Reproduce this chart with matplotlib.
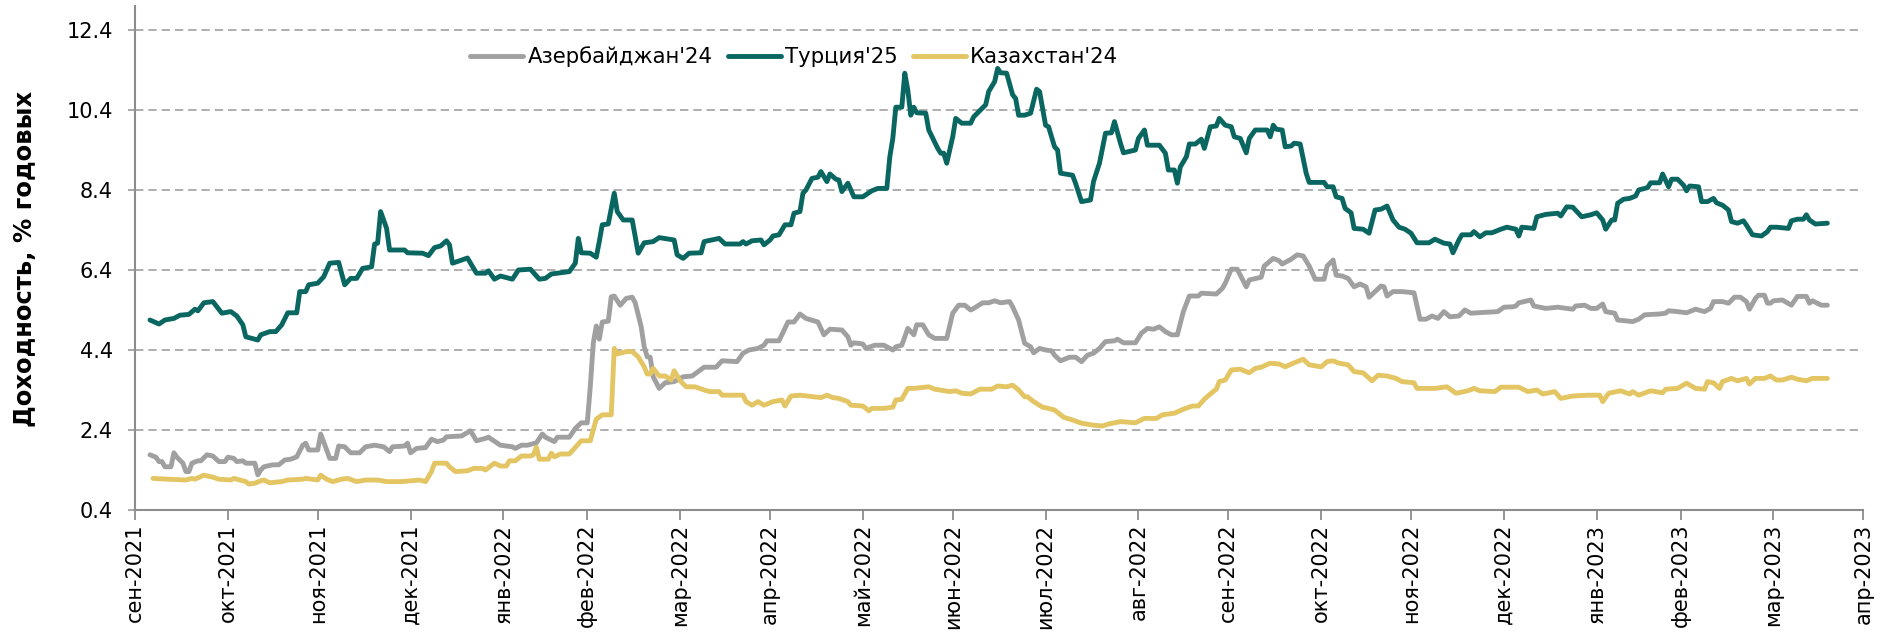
import matplotlib
matplotlib.use('Agg')
import matplotlib.pyplot as plt
from matplotlib.ticker import FormatStrFormatter
import numpy as np
import pandas as pd

# days are counted from start_date (end of september 2021)
start_date = '2021-09-30'

tr_day = [5, 8, 10, 13, 15, 18, 20, 21, 23, 26,
          29, 32, 34, 36, 37, 41, 42, 45, 47, 49,
          51, 54, 55, 57, 58, 61, 63, 65, 68, 70,
          72, 74, 76, 79, 80, 81, 82, 84, 85, 90,
          91, 96, 98, 100, 102, 104, 105, 106, 111, 114,
          117, 118, 120, 122, 126, 128, 132, 135, 137, 139,
          145, 147, 148, 149, 152, 154, 155, 156, 158, 160,
          161, 163, 166, 168, 170, 173, 175, 180, 181, 183,
          185, 189, 190, 195, 197, 202, 203, 204, 206, 209,
          210, 212, 213, 215, 217, 219, 220, 222, 223, 224,
          226, 228, 229, 231, 232, 234, 235, 236, 238, 240,
          243, 246, 248, 251, 252, 253, 254, 256, 257, 258,
          259, 260, 261, 264, 265, 268, 269, 270, 271, 273,
          274, 276, 279, 280, 282, 284, 285, 287, 288, 289,
          291, 293, 294, 295, 297, 299, 301, 302, 304, 305,
          307, 308, 309, 313, 314, 316, 319, 320, 322, 324,
          326, 327, 329, 330, 334, 335, 337, 338, 342, 344,
          345, 347, 348, 349, 351, 352, 354, 356, 357, 359,
          361, 362, 364, 366, 367, 369, 371, 372, 374, 378,
          379, 380, 381, 383, 384, 386, 387, 389, 391, 392,
          397, 398, 400, 401, 403, 404, 406, 407, 410, 412,
          414, 416, 418, 420, 422, 424, 426, 428, 432, 434,
          437, 439, 440, 442, 443, 446, 447, 449, 451, 453,
          456, 458, 461, 462, 463, 467, 468, 471, 475, 476,
          478, 480, 483, 486, 488, 490, 491, 493, 494, 495,
          497, 499, 501, 502, 505, 506, 509, 510, 512, 513,
          515, 517, 518, 519, 522, 523, 525, 527, 528, 530,
          532, 533, 535, 537, 538, 540, 543, 545, 546, 548,
          552, 553, 555, 557, 558, 559, 561, 565]
tr_val = [5.15, 5.05, 5.15, 5.19, 5.27, 5.29, 5.42, 5.38, 5.58, 5.61,
          5.32, 5.36, 5.25, 5.03, 4.73, 4.65, 4.78, 4.86, 4.86, 5.03,
          5.33, 5.33, 5.86, 5.86, 6.03, 6.07, 6.23, 6.57, 6.59, 6.03,
          6.19, 6.19, 6.44, 6.48, 7.05, 7.07, 7.86, 7.44, 6.90, 6.90,
          6.83, 6.82, 6.76, 6.96, 7.00, 7.13, 7.03, 6.57, 6.70, 6.32,
          6.32, 6.38, 6.17, 6.25, 6.17, 6.40, 6.42, 6.17, 6.19, 6.30,
          6.36, 6.57, 7.19, 6.83, 6.82, 6.72, 7.11, 7.53, 7.55, 8.32,
          7.86, 7.65, 7.65, 6.82, 7.08, 7.11, 7.21, 7.15, 6.78, 6.69,
          6.82, 6.83, 7.11, 7.19, 7.05, 7.05, 7.11, 7.05, 7.13, 7.15,
          7.03, 7.15, 7.25, 7.28, 7.53, 7.53, 7.82, 7.86, 8.32, 8.40,
          8.69, 8.72, 8.86, 8.61, 8.80, 8.67, 8.65, 8.36, 8.57, 8.23,
          8.23, 8.38, 8.44, 8.44, 9.23, 9.69, 10.47, 10.47, 11.32, 10.90,
          10.27, 10.47, 10.33, 10.32, 9.90, 9.44, 9.32, 9.32, 9.07, 9.73,
          10.19, 10.07, 10.07, 10.23, 10.38, 10.53, 10.86, 11.11, 11.44, 11.33,
          11.32, 10.78, 10.69, 10.27, 10.27, 10.32, 10.92, 10.86, 10.02, 9.98,
          9.48, 9.40, 8.82, 8.77, 8.57, 8.11, 8.15, 8.61, 9.07, 9.82,
          9.83, 10.11, 9.57, 9.33, 9.40, 9.69, 9.90, 9.52, 9.52, 9.32,
          8.90, 8.90, 8.57, 8.98, 9.23, 9.55, 9.55, 9.67, 9.44, 9.98,
          10.00, 10.19, 10.02, 9.98, 9.73, 9.69, 9.33, 9.69, 9.90, 9.90,
          9.73, 10.02, 9.92, 9.90, 9.48, 9.50, 9.57, 9.55, 8.82, 8.59,
          8.59, 8.48, 8.48, 8.23, 8.19, 7.94, 7.83, 7.44, 7.42, 7.32,
          7.90, 7.92, 8.00, 7.65, 7.47, 7.42, 7.32, 7.08, 7.08, 7.17,
          7.07, 7.05, 6.83, 7.15, 7.28, 7.28, 7.36, 7.23, 7.33, 7.33,
          7.42, 7.47, 7.42, 7.25, 7.47, 7.44, 7.73, 7.79, 7.82, 7.75,
          7.98, 7.97, 7.73, 7.78, 7.83, 7.65, 7.42, 7.65, 7.65, 8.07,
          8.17, 8.19, 8.25, 8.40, 8.46, 8.58, 8.58, 8.80, 8.48, 8.67,
          8.67, 8.52, 8.38, 8.50, 8.48, 8.11, 8.11, 8.19, 8.08, 8.02,
          7.90, 7.61, 7.57, 7.63, 7.52, 7.28, 7.25, 7.36, 7.47, 7.47,
          7.44, 7.63, 7.67, 7.67, 7.78, 7.65, 7.55, 7.57]

az_day = [5, 7, 8, 9, 10, 12, 13, 14, 16, 17,
          18, 19, 21, 22, 24, 26, 28, 30, 31, 33,
          34, 36, 37, 40, 41, 42, 43, 46, 48, 50,
          52, 54, 56, 57, 58, 61, 62, 64, 65, 67,
          68, 70, 72, 75, 77, 80, 83, 85, 86, 90,
          91, 92, 94, 97, 99, 101, 103, 104, 109, 112,
          114, 117, 118, 122, 126, 127, 129, 131, 134, 136,
          137, 140, 141, 145, 147, 149, 151, 152, 153, 154,
          155, 156, 158, 159, 160, 162, 164, 166, 167, 169,
          170, 171, 172, 173, 175, 177, 180, 183, 186, 188,
          190, 194, 196, 201, 203, 205, 208, 210, 211, 215,
          218, 220, 222, 224, 228, 230, 232, 236, 238, 239,
          240, 243, 244, 247, 250, 253, 254, 256, 258, 260,
          261, 263, 265, 267, 271, 273, 275, 277, 279, 280,
          283, 285, 287, 289, 292, 293, 295, 297, 299, 300,
          302, 304, 306, 307, 309, 312, 314, 316, 318, 320,
          322, 324, 327, 328, 330, 334, 336, 338, 340, 342,
          344, 346, 348, 350, 352, 355, 356, 361, 363, 364,
          366, 368, 371, 372, 376, 377, 380, 382, 383, 386,
          388, 390, 392, 394, 397, 398, 400, 401, 403, 405,
          407, 409, 411, 412, 414, 416, 417, 418, 420, 423,
          427, 429, 431, 433, 435, 437, 439, 442, 444, 446,
          448, 455, 457, 460, 461, 462, 466, 467, 471, 475,
          480, 481, 484, 486, 488, 490, 491, 494, 495, 500,
          502, 504, 509, 511, 512, 515, 518, 521, 524, 526,
          527, 530, 532, 534, 536, 538, 539, 541, 542, 544,
          545, 546, 547, 550, 553, 555, 558, 559, 560, 563,
          565]
az_val = [1.78, 1.72, 1.61, 1.61, 1.48, 1.48, 1.83, 1.72, 1.57, 1.36,
          1.36, 1.57, 1.63, 1.63, 1.78, 1.75, 1.61, 1.61, 1.72, 1.69,
          1.61, 1.63, 1.57, 1.57, 1.28, 1.40, 1.48, 1.53, 1.53, 1.65,
          1.67, 1.73, 2.02, 2.07, 1.90, 1.90, 2.30, 1.90, 1.69, 1.69,
          2.00, 1.98, 1.83, 1.83, 1.98, 2.02, 1.98, 1.86, 1.98, 2.00,
          2.07, 1.83, 1.94, 1.96, 2.17, 2.11, 2.15, 2.23, 2.25, 2.38,
          2.13, 2.19, 2.22, 2.02, 1.98, 1.94, 2.02, 2.02, 2.08, 2.30,
          2.22, 2.11, 2.22, 2.22, 2.44, 2.58, 2.58, 3.48, 4.57, 5.00,
          4.67, 5.10, 5.12, 5.73, 5.75, 5.52, 5.69, 5.72, 5.58, 4.98,
          4.48, 4.23, 4.22, 3.73, 3.44, 3.58, 3.61, 3.73, 3.75, 3.86,
          3.97, 3.97, 4.13, 4.11, 4.32, 4.40, 4.44, 4.52, 4.63, 4.63,
          5.10, 5.10, 5.30, 5.19, 5.10, 4.78, 4.92, 4.90, 4.73, 4.52,
          4.58, 4.55, 4.44, 4.52, 4.52, 4.40, 4.48, 4.52, 4.94, 4.78,
          5.03, 5.03, 4.78, 4.69, 4.69, 5.32, 5.52, 5.52, 5.40, 5.44,
          5.58, 5.58, 5.63, 5.58, 5.61, 5.48, 5.15, 4.57, 4.48, 4.33,
          4.44, 4.40, 4.38, 4.27, 4.13, 4.22, 4.22, 4.11, 4.27, 4.32,
          4.44, 4.61, 4.63, 4.67, 4.58, 4.58, 4.82, 4.94, 4.92, 4.98,
          4.86, 4.78, 4.78, 5.36, 5.75, 5.75, 5.82, 5.80, 5.94, 6.07,
          6.42, 6.42, 5.98, 6.15, 6.22, 6.50, 6.69, 6.63, 6.55, 6.67,
          6.78, 6.75, 6.50, 6.17, 6.17, 6.50, 6.65, 6.27, 6.25, 6.19,
          5.98, 6.05, 5.98, 5.72, 5.86, 6.00, 5.98, 5.75, 5.86, 5.86,
          5.83, 5.17, 5.17, 5.25, 5.19, 5.36, 5.23, 5.25, 5.40, 5.32,
          5.33, 5.36, 5.47, 5.48, 5.50, 5.58, 5.65, 5.50, 5.44, 5.47,
          5.42, 5.50, 5.52, 5.44, 5.44, 5.55, 5.36, 5.32, 5.15, 5.11,
          5.17, 5.28, 5.30, 5.32, 5.38, 5.36, 5.33, 5.42, 5.36, 5.44,
          5.61, 5.61, 5.57, 5.72, 5.72, 5.61, 5.42, 5.69, 5.77, 5.77,
          5.57, 5.57, 5.63, 5.65, 5.52, 5.74, 5.74, 5.57, 5.63, 5.52,
          5.52]

kz_day = [6, 11, 17, 19, 20, 23, 26, 28, 32, 33,
          35, 37, 38, 40, 42, 43, 45, 49, 51, 56,
          57, 61, 62, 64, 66, 69, 71, 74, 77, 81,
          84, 89, 95, 97, 99, 100, 104, 105, 107, 111,
          113, 116, 117, 120, 122, 124, 125, 127, 129, 132,
          133, 134, 135, 138, 139, 140, 142, 145, 148, 149,
          152, 154, 156, 159, 160, 161, 164, 166, 168, 170,
          171, 172, 173, 175, 177, 179, 180, 182, 184, 187,
          190, 192, 195, 196, 203, 204, 206, 208, 210, 213,
          216, 217, 219, 222, 229, 231, 233, 235, 238, 239,
          243, 245, 246, 250, 253, 254, 256, 258, 260, 265,
          267, 272, 274, 276, 279, 282, 286, 288, 291, 293,
          295, 297, 298, 300, 303, 305, 307, 310, 313, 316,
          320, 323, 325, 329, 334, 337, 341, 343, 347, 350,
          353, 355, 357, 359, 361, 362, 364, 366, 369, 372,
          374, 376, 379, 382, 384, 387, 390, 392, 396, 398,
          400, 402, 405, 407, 410, 413, 415, 418, 421, 423,
          427, 428, 434, 438, 441, 445, 447, 449, 454, 456,
          459, 462, 465, 468, 470, 474, 476, 480, 485, 489,
          490, 492, 496, 499, 500, 502, 506, 510, 511, 515,
          518, 521, 524, 525, 527, 529, 530, 533, 535, 538,
          539, 541, 544, 546, 548, 550, 553, 555, 558, 560,
          562, 565]
kz_val = [1.19, 1.17, 1.15, 1.19, 1.17, 1.27, 1.22, 1.17, 1.15, 1.19,
          1.15, 1.11, 1.05, 1.07, 1.13, 1.15, 1.08, 1.11, 1.15, 1.17,
          1.19, 1.15, 1.27, 1.17, 1.11, 1.17, 1.19, 1.11, 1.15, 1.15,
          1.11, 1.11, 1.15, 1.11, 1.36, 1.57, 1.57, 1.48, 1.36, 1.38,
          1.44, 1.44, 1.40, 1.57, 1.50, 1.50, 1.63, 1.63, 1.75, 1.75,
          1.78, 1.97, 1.67, 1.67, 1.82, 1.73, 1.80, 1.80, 2.05, 2.13,
          2.13, 2.67, 2.78, 2.78, 4.44, 4.30, 4.36, 4.36, 4.23, 3.98,
          3.80, 3.80, 3.94, 3.75, 3.75, 3.65, 3.88, 3.63, 3.48, 3.48,
          3.40, 3.36, 3.36, 3.27, 3.27, 3.11, 3.02, 3.11, 3.02, 3.11,
          3.15, 3.00, 3.25, 3.27, 3.21, 3.27, 3.21, 3.19, 3.11, 3.02,
          3.00, 2.88, 2.94, 2.94, 2.97, 3.15, 3.17, 3.44, 3.44, 3.48,
          3.42, 3.36, 3.38, 3.32, 3.30, 3.42, 3.42, 3.50, 3.48, 3.52,
          3.40, 3.23, 3.23, 3.11, 2.97, 2.94, 2.90, 2.72, 2.65, 2.57,
          2.52, 2.50, 2.55, 2.61, 2.58, 2.69, 2.69, 2.78, 2.82, 2.92,
          3.00, 3.00, 3.17, 3.30, 3.42, 3.61, 3.65, 3.90, 3.92, 3.83,
          3.94, 3.97, 4.07, 4.05, 3.98, 4.08, 4.17, 4.03, 3.98, 4.11,
          4.13, 4.07, 4.03, 3.86, 3.83, 3.63, 3.77, 3.75, 3.69, 3.61,
          3.58, 3.44, 3.44, 3.48, 3.32, 3.38, 3.44, 3.38, 3.36, 3.47,
          3.47, 3.47, 3.36, 3.40, 3.30, 3.36, 3.19, 3.25, 3.27, 3.27,
          3.11, 3.32, 3.38, 3.30, 3.36, 3.27, 3.38, 3.33, 3.42, 3.44,
          3.57, 3.44, 3.42, 3.61, 3.58, 3.44, 3.61, 3.69, 3.63, 3.69,
          3.55, 3.69, 3.69, 3.75, 3.65, 3.65, 3.72, 3.67, 3.63, 3.69,
          3.69, 3.69]

series_names = ["Азербайджан'24", "Турция'25", "Казахстан'24"]
series_colors = ['#A0A0A0', '#0A6660', '#E4C563']
months_ru = ['янв', 'фев', 'мар', 'апр', 'май', 'июн',
             'июл', 'авг', 'сен', 'окт', 'ноя', 'дек']
y_ticks = [0.4, 2.4, 4.4, 6.4, 8.4, 10.4, 12.4]
y_label = 'Доходность, % годовых'

plt.rcParams['font.family'] = ['DejaVu Sans']

base = pd.Timestamp(start_date)
def to_dates(days):
    return base + pd.to_timedelta(np.array(days), unit='D')

fig = plt.figure(figsize=(18.92, 6.33), dpi=100)
ax = fig.add_axes([0.07135, 0.19431, 0.91348, 0.79621])

data = [(az_day, az_val), (tr_day, tr_val), (kz_day, kz_val)]
for (d, v), name, col in zip(data, series_names, series_colors):
    ax.plot(to_dates(d), v, color=col, lw=3.5, label=name,
            solid_joinstyle='round', solid_capstyle='round')

# month-end ticks, labelled with that month
ticks = pd.date_range('2021-10-01', periods=20, freq='MS') - pd.Timedelta(days=1)
ax.set_xticks(ticks)
ax.set_xticklabels([f'{months_ru[t.month - 1]}-{t.year}' for t in ticks])
ax.set_xlim(ticks[0], ticks[-1])

ax.set_ylim(0.4, 13.0)
ax.set_yticks(y_ticks)
ax.yaxis.set_major_formatter(FormatStrFormatter('%.1f'))
ax.yaxis.grid(True, color='#999999', lw=1.1, linestyle=(0, (5.5, 3.2)))
ax.set_axisbelow(True)

for s in ['top', 'right']:
    ax.spines[s].set_visible(False)
for s in ['left', 'bottom']:
    ax.spines[s].set_color('#8C8C8C')
    ax.spines[s].set_linewidth(1.5)

ax.tick_params(axis='y', length=5, width=1.2, color='#999999', pad=11,
               labelsize=15)
ax.tick_params(axis='x', length=7, width=1.3, color='#8C8C8C', labelsize=15,
               rotation=90, pad=3)

ax.legend(loc='center left', bbox_to_anchor=(0.194, 0.899), ncol=3,
          frameon=False, fontsize=15.3, handlelength=2.5, handletextpad=0.2,
          columnspacing=0.7, borderpad=0, borderaxespad=0)

fig.text(25 / 1892, 0.591, y_label, rotation=90, ha='center', va='center',
         fontsize=17.5, fontweight='bold')

fig.savefig('out.png', dpi=100)
